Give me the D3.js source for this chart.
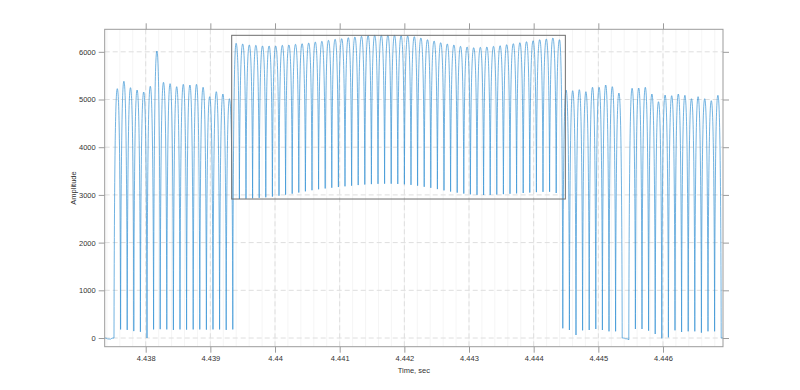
<!DOCTYPE html>
<html>
<head>
<meta charset="utf-8">
<style>
body { margin: 0; background: #fff; }
svg text { font-family: "Liberation Sans", Arial, sans-serif; font-size: 7.5px; fill: #333; }
</style>
</head>
<body>
<div id="chart"></div>
<script src="https://d3js.org/d3.v7.min.js"></script>
<script>
// time of the first listed peak and spacing between peaks (sec)
const t0 = 4.4373566;
const period = 0.00010207;

// peak amplitude of each cycle
const peaks = [0, -25,
  5227, 5382, 5248, 5199, 5157, 5277, 6017, 5360, 5332, 5269, 5318, 5304, 5318, 5256, 5059, 5164, 5115, 5017,
  6178, 6164, 6143, 6136, 6122, 6122, 6122, 6136, 6143, 6157, 6170, 6184, 6205, 6220, 6241, 6262, 6275, 6296, 6310, 6325,
  6338, 6346, 6346, 6346, 6346, 6338, 6331, 6317, 6289, 6254, 6226, 6191, 6164, 6143, 6115, 6101, 6086, 6094, 6101, 6115,
  6128, 6149, 6170, 6191, 6212, 6233, 6254, 6268, 6289, 6254,
  5199, 5185, 5206, 5164, 5256, 5256, 5304, 5269, 5136, -15, 5235, 5241, 5256, 5115, 4954, 5094, 5080, 5115, 5088, 5017,
  5059, 5017, 4975, 5088,
  0];

// minimum after each peak
const troughs = [-20, 0,
  180, 170, 145, 130, 0, 180, 185, 180, 170, 180, 175, 180, 180, 175, 180, 180, 170, 180,
  2914, 2920, 2928, 2938, 2950, 2965, 2983, 3005, 3026, 3050, 3075, 3098, 3118, 3135, 3150, 3165, 3180, 3193, 3206, 3218,
  3226, 3232, 3235, 3235, 3230, 3222, 3210, 3193, 3170, 3148, 3122, 3095, 3070, 3048, 3028, 3012, 3002, 2998, 3000, 3008,
  3016, 3024, 3032, 3040, 3050, 3058, 3064, 3066, 3040, 203,
  168, 63, 161, 168, 189, 168, 140, 140, 0, -40, 189, 189, 154, 84, -7, 14, 161, 126, 140, 140,
  112, 140, 140, 0,
  0];

const xTicks = [4.438, 4.439, 4.44, 4.441, 4.442, 4.443, 4.444, 4.445, 4.446];
const yTicks = [0, 1000, 2000, 3000, 4000, 5000, 6000];

// highlighted window
const boxTime = [4.43933, 4.44449];
const boxAmp = [2914, 6346];

const width = 800, height = 390;
const margin = {top: 29.3, right: 77, bottom: 43.3, left: 104.7};

const svg = d3.select("#chart").append("svg")
  .attr("width", width)
  .attr("height", height);

const x = d3.scaleLinear()
  .domain([4.437366, 4.446928])
  .range([margin.left, width - margin.right]);

const y = d3.scaleLinear()
  .domain([-182, 6472])
  .range([height - margin.bottom, margin.top]);

svg.append("clipPath").attr("id", "plot-clip")
  .append("rect")
  .attr("x", margin.left).attr("y", margin.top)
  .attr("width", x.range()[1] - x.range()[0])
  .attr("height", y.range()[0] - y.range()[1]);

// grid
const grid = svg.append("g");
grid.selectAll("line.minor")
  .data(x.ticks(48))
  .join("line")
  .attr("class", "minor")
  .attr("x1", d => x(d)).attr("x2", d => x(d))
  .attr("y1", y.range()[1]).attr("y2", y.range()[0])
  .attr("stroke", "#f3f3f3")
  .attr("stroke-width", 0.8);

grid.selectAll("line.vmajor")
  .data(xTicks)
  .join("line")
  .attr("class", "vmajor")
  .attr("x1", d => x(d)).attr("x2", d => x(d))
  .attr("y1", y.range()[1]).attr("y2", y.range()[0])
  .attr("stroke", "#dedede")
  .attr("stroke-dasharray", "5,3");

grid.selectAll("line.hmajor")
  .data(yTicks)
  .join("line")
  .attr("class", "hmajor")
  .attr("y1", d => y(d)).attr("y2", d => y(d))
  .attr("x1", x.range()[0]).attr("x2", x.range()[1])
  .attr("stroke", "#dedede")
  .attr("stroke-dasharray", "5,3");

// signal: alternate peak / trough, broad rounded tops and sharp troughs
const pts = [];
peaks.forEach((p, i) => {
  const t = t0 + i * period;
  pts.push([t, p]);
  pts.push([t + period / 2, troughs[i]]);
});

const path = d3.path();
let prev = null;
pts.forEach(([t, v]) => {
  const x1 = x(t), y1 = y(v);
  if (!prev) {
    path.moveTo(x1, y1);
  } else {
    const [x0, y0] = prev;
    const dx = x1 - x0;
    if (y1 < y0) {
      path.bezierCurveTo(x0 + dx * 0.12, y0 + 0.7 * (y1 - y0), x0 + dx * 0.45, y1, x1, y1);
    } else {
      path.bezierCurveTo(x1 - dx * 0.45, y0, x1 - dx * 0.12, y1 - 0.7 * (y1 - y0), x1, y1);
    }
  }
  prev = [x1, y1];
});

svg.append("path")
  .attr("clip-path", "url(#plot-clip)")
  .attr("d", path.toString())
  .attr("fill", "none")
  .attr("stroke", "#3592d4")
  .attr("stroke-width", 0.7);

// zoom window
svg.append("rect")
  .attr("x", x(boxTime[0]))
  .attr("y", y(boxAmp[1]))
  .attr("width", x(boxTime[1]) - x(boxTime[0]))
  .attr("height", y(boxAmp[0]) - y(boxAmp[1]))
  .attr("fill", "none")
  .attr("stroke", "#6e6e6e")
  .attr("stroke-width", 1);

// axes on all four sides, ticks outward
const tickLen = 6;
const axisColor = "#9b9b9b";

const gx = svg.append("g").attr("transform", `translate(0,${y.range()[0]})`)
  .call(d3.axisBottom(x).tickValues(xTicks).tickSize(tickLen).tickPadding(3).tickFormat(d3.format("")));
const gxt = svg.append("g").attr("transform", `translate(0,${y.range()[1]})`)
  .call(d3.axisTop(x).tickValues(xTicks).tickSize(tickLen).tickFormat(""));
const gy = svg.append("g").attr("transform", `translate(${x.range()[0]},0)`)
  .call(d3.axisLeft(y).tickValues(yTicks).tickSize(tickLen).tickPadding(3).tickFormat(d3.format("d")));
const gyr = svg.append("g").attr("transform", `translate(${x.range()[1]},0)`)
  .call(d3.axisRight(y).tickValues(yTicks).tickSize(tickLen).tickFormat(""));

[gx, gxt, gy, gyr].forEach(g => {
  g.select(".domain").remove();
  g.selectAll(".tick line").attr("stroke", axisColor);
  g.selectAll("text").attr("fill", "#3a3a3a").style("font-size", "7.5px")
    .style("font-family", '"Liberation Sans", Arial, sans-serif');
});

svg.append("rect")
  .attr("x", x.range()[0])
  .attr("y", y.range()[1])
  .attr("width", x.range()[1] - x.range()[0])
  .attr("height", y.range()[0] - y.range()[1])
  .attr("fill", "none")
  .attr("stroke", axisColor)
  .attr("stroke-width", 1);

svg.append("text")
  .attr("x", (x.range()[0] + x.range()[1]) / 2)
  .attr("y", 373)
  .attr("text-anchor", "middle")
  .text("Time, sec");

svg.append("text")
  .attr("transform", `translate(76,${(y.range()[0] + y.range()[1]) / 2}) rotate(-90)`)
  .attr("text-anchor", "middle")
  .text("Amplitude");
</script>
</body>
</html>
